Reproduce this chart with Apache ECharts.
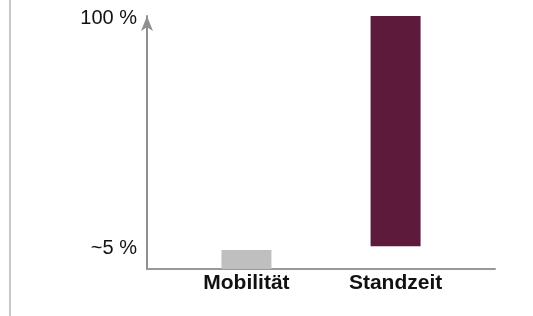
<!DOCTYPE html>
<html>
<head>
<meta charset="utf-8">
<script src="https://cdn.jsdelivr.net/npm/echarts@6/dist/echarts.min.js"></script>
<style>
  html, body { margin: 0; padding: 0; background: #fff; }
  #chart { width: 533px; height: 316px; }
</style>
</head>
<body>
<div id="chart"></div>
<script>
// Kategorien und Werte (schematisch, aus dem Bild geschätzt)
const categories = ['Mobilität', 'Standzeit'];
const slotIndex = [2, 5];         // Position der Balken auf der Achse
const slotCount = 8;
const baseValues = [0, 9];        // unsichtbarer Sockel
const barValues = [7.5, 91];      // sichtbarer Balken
const barColors = ['#bfbfbf', '#5e1a3b'];
const yTickValues = [8, 99];
const yTickLabels = ['~5 %', '100 %'];

// Achsen-Slots aufbauen
const slots = [];
const baseData = [];
const barData = [];
for (let i = 0; i < slotCount; i++) {
  const k = slotIndex.indexOf(i);
  slots.push(k >= 0 ? categories[k] : ' '.repeat(i + 1));
  baseData.push(k >= 0 ? baseValues[k] : '-');
  barData.push(k >= 0 ? { value: barValues[k], itemStyle: { color: barColors[k] } } : '-');
}

const chart = echarts.init(document.getElementById('chart'));

const option = {
  animation: false,
  graphic: [
    {
      type: 'line',
      shape: { x1: 10, y1: 0, x2: 10, y2: 316 },
      style: { stroke: '#c8c8c8', lineWidth: 2 }
    }
  ],
  grid: { left: 147, right: 38, top: 16, bottom: 47 },
  xAxis: {
    type: 'category',
    data: slots,
    boundaryGap: false,
    axisTick: { show: false },
    axisLine: { show: true, lineStyle: { color: '#999', width: 2 } },
    axisLabel: {
      interval: 0,
      fontFamily: 'Liberation Sans',
      fontSize: 21,
      fontWeight: 'bold',
      color: '#111',
      margin: 4
    }
  },
  yAxis: {
    type: 'value',
    min: 0,
    max: 100,
    splitLine: { show: false },
    axisTick: { show: false },
    axisLine: {
      show: true,
      symbol: ['none', 'arrow'],
      symbolSize: [9, 15],
      lineStyle: { color: '#909090', width: 2 }
    },
    axisLabel: {
      customValues: yTickValues,
      formatter: (v) => yTickLabels[yTickValues.indexOf(v)] || '',
      fontFamily: 'Liberation Sans',
      fontSize: 20,
      color: '#111',
      margin: 10
    }
  },
  series: [
    {
      type: 'bar',
      stack: 'a',
      barWidth: 50,
      data: baseData,
      itemStyle: { color: 'transparent' },
      silent: true
    },
    {
      type: 'bar',
      stack: 'a',
      barWidth: 50,
      data: barData
    }
  ]
};

chart.setOption(option);
</script>
</body>
</html>
